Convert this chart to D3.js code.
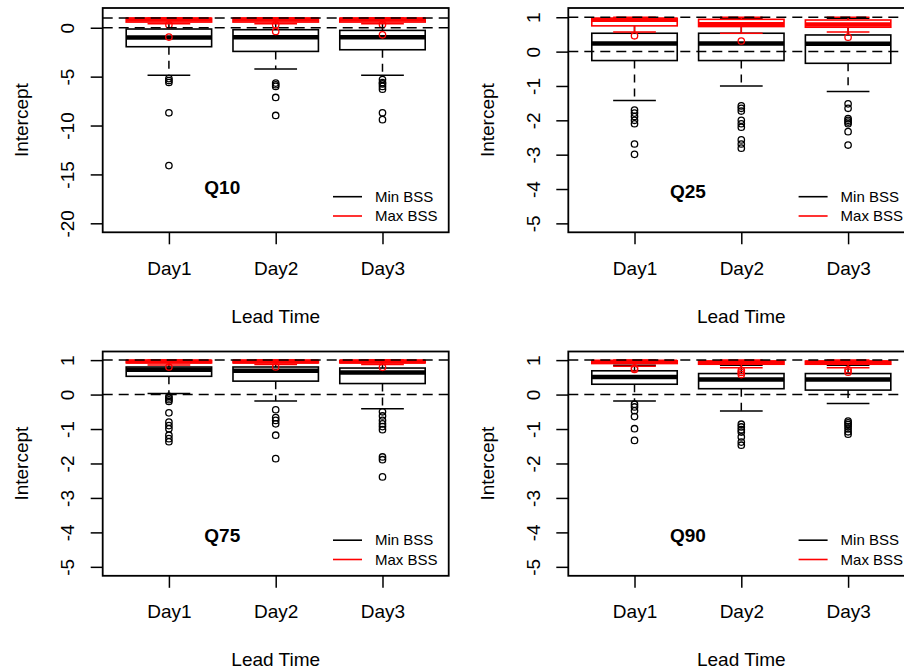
<!DOCTYPE html>
<html>
<head>
<meta charset="utf-8">
<script src="https://cdn.jsdelivr.net/npm/d3@7"></script>
<style>
    body { margin: 0; background: #fff; }
    text { font-family: "Liberation Sans", Arial, sans-serif; fill: #000; }
</style>
</head>
<body>
<svg class="visSVG"></svg>
<script>
const svgWidth = 904;
const svgHeight = 669;

// categories and labels
const days = ["Day1", "Day2", "Day3"];
const panelNames = ["Q10", "Q25", "Q75", "Q90"];
const legendNames = ["Min BSS", "Max BSS"];
const legendColours = ["#000000", "#ff0000"];
const q10Ticks = [0, -5, -10, -15, -20];
const qTicks = [1, 0, -1, -2, -3, -4, -5];
const refLines = [0, 1];
const panelLabelY = [-16.3, -4.07, -4.09, -4.09];

// box stats per day: [lower whisker, Q1, median, Q3, upper whisker]
const q10Min = [[-4.85, -1.94, -1.0, -0.13, 0.9], [-4.23, -2.42, -0.98, -0.2, 0.9], [-4.85, -2.25, -0.98, -0.27, 0.9]];
const q10MinOut = [[-5.2, -5.4, -5.6, -8.7, -14.1], [-5.66, -5.83, -6.0, -7.13, -8.97], [-5.3, -5.6, -5.75, -6.0, -6.28, -8.7, -9.4]];
const q10Max = [[0.4, 0.58, 0.85, 0.97, 1.0], [0.4, 0.58, 0.85, 0.97, 1.0], [0.4, 0.58, 0.85, 0.97, 1.0]];
const q10MaxOut = [[0.3, -0.95], [0.3, -0.38], [0.32, -0.72]];

const q25Min = [[-1.42, -0.26, 0.24, 0.535, 0.97], [-1.0, -0.26, 0.24, 0.535, 0.97], [-1.16, -0.34, 0.23, 0.485, 0.97]];
const q25MinOut = [[-1.7, -1.79, -1.89, -2.0, -2.1, -2.69, -2.99], [-1.58, -1.65, -1.73, -2.0, -2.1, -2.2, -2.57, -2.69, -2.81], [-1.52, -1.65, -1.95, -2.0, -2.05, -2.1, -2.33, -2.72]];
const q25Max = [[0.57, 0.75, 0.93, 0.97, 1.0], [0.535, 0.73, 0.8, 0.94, 1.0], [0.57, 0.71, 0.79, 0.92, 1.0]];
const q25MaxOut = [[0.46], [0.31], [0.42]];

const q75Min = [[0.03, 0.53, 0.72, 0.8, 0.99], [-0.19, 0.39, 0.69, 0.8, 0.99], [-0.41, 0.32, 0.64, 0.77, 0.99]];
const q75MinOut = [[-0.05, -0.1, -0.15, -0.2, -0.53, -0.8, -0.9, -0.99, -1.18, -1.28, -1.37], [-0.44, -0.67, -0.75, -0.85, -1.18, -1.86], [-0.5, -0.62, -0.75, -0.85, -0.93, -1.02, -1.81, -1.89, -2.39]];
const q75Max = [[0.86, 0.92, 0.96, 0.99, 1.0], [0.87, 0.92, 0.96, 0.99, 1.0], [0.87, 0.92, 0.96, 0.99, 1.0]];
const q75MaxOut = [[0.8], [0.8], [0.79]];

const q90Min = [[-0.19, 0.3, 0.51, 0.69, 0.85], [-0.48, 0.17, 0.44, 0.61, 0.85], [-0.26, 0.13, 0.44, 0.61, 0.85]];
const q90MinOut = [[-0.28, -0.36, -0.47, -0.64, -0.99, -1.33], [-0.86, -0.94, -1.02, -1.09, -1.23, -1.38, -1.47], [-0.77, -0.82, -0.87, -0.93, -1.0, -1.08, -1.15]];
const q90Max = [[0.82, 0.9, 0.95, 0.98, 1.0], [0.78, 0.88, 0.93, 0.97, 1.0], [0.78, 0.88, 0.93, 0.97, 1.0]];
const q90MaxOut = [[0.73, 0.77], [0.7, 0.64, 0.58], [0.72, 0.65]];

// layout
const plotW = 346;
const plotH = 224.3;
const lefts = [102.7, 568.3];
const tops = [8, 351.5];

const svg = d3.select('.visSVG')
    .attr("width", svgWidth)
    .attr("height", svgHeight);

svg.append("rect")
    .attr("width", svgWidth)
    .attr("height", svgHeight)
    .attr("fill", "#fff");

var panels = [
    { min: q10Min, minOut: q10MinOut, max: q10Max, maxOut: q10MaxOut, ticks: q10Ticks, domain: [-20.92, 2.02] },
    { min: q25Min, minOut: q25MinOut, max: q25Max, maxOut: q25MaxOut, ticks: qTicks, domain: [-5.26, 1.27] },
    { min: q75Min, minOut: q75MinOut, max: q75Max, maxOut: q75MaxOut, ticks: qTicks, domain: [-5.26, 1.25] },
    { min: q90Min, minOut: q90MinOut, max: q90Max, maxOut: q90MaxOut, ticks: qTicks, domain: [-5.26, 1.25] }
];

const xScale = d3.scaleLinear()
    .domain([0.38, 3.62])
    .range([0, plotW]);

// one boxplot series (R style: box, thick median, dashed whiskers, staples, open circles)
function drawBoxes(g, yScale, stats, outs, colour) {
    var half = 0.4, staple = 0.2;
    stats.forEach(function(s, i) {
        var cx = i + 1;
        var b = g.append("g");
        // whiskers
        [[s[3], s[4]], [s[1], s[0]]].forEach(function(w) {
            b.append("line")
                .attr("x1", xScale(cx)).attr("x2", xScale(cx))
                .attr("y1", yScale(w[0])).attr("y2", yScale(w[1]))
                .attr("stroke", colour)
                .attr("stroke-width", 1.5)
                .attr("stroke-dasharray", "8,6");
        });
        // staples
        [s[0], s[4]].forEach(function(v) {
            b.append("line")
                .attr("x1", xScale(cx - staple)).attr("x2", xScale(cx + staple))
                .attr("y1", yScale(v)).attr("y2", yScale(v))
                .attr("stroke", colour)
                .attr("stroke-width", 1.5);
        });
        // box
        b.append("rect")
            .attr("x", xScale(cx - half))
            .attr("y", yScale(s[3]))
            .attr("width", xScale(cx + half) - xScale(cx - half))
            .attr("height", yScale(s[1]) - yScale(s[3]))
            .attr("fill", "#fff")
            .attr("stroke", colour)
            .attr("stroke-width", 1.6);
        // median
        b.append("line")
            .attr("x1", xScale(cx - half)).attr("x2", xScale(cx + half))
            .attr("y1", yScale(s[2])).attr("y2", yScale(s[2]))
            .attr("stroke", colour)
            .attr("stroke-width", 4.5);
        // outliers
        b.selectAll("circle")
            .data(outs[i]).enter().append("circle")
                .attr("cx", xScale(cx))
                .attr("cy", function(d) { return yScale(d); })
                .attr("r", 3.2)
                .attr("fill", "none")
                .attr("stroke", colour)
                .attr("stroke-width", 1.3);
    });
}

panels.forEach(function(p, k) {
    var left = lefts[k % 2];
    var top = tops[Math.floor(k / 2)];
    var graph = svg.append("g")
        .attr("transform", "translate(" + left + "," + top + ")");

    var yScale = d3.scaleLinear()
        .domain(p.domain)
        .range([plotH, 0]);

    drawBoxes(graph, yScale, p.min, p.minOut, legendColours[0]);
    drawBoxes(graph, yScale, p.max, p.maxOut, legendColours[1]);

    // reference lines at 0 and 1
    graph.selectAll(".refLine")
        .data(refLines).enter().append("line")
            .attr("class", "refLine")
            .attr("x1", 0).attr("x2", plotW)
            .attr("y1", function(d) { return yScale(d); })
            .attr("y2", function(d) { return yScale(d); })
            .attr("stroke", "#000")
            .attr("stroke-width", 1.5)
            .attr("stroke-dasharray", "10,6");

    // frame
    graph.append("rect")
        .attr("width", plotW)
        .attr("height", plotH)
        .attr("fill", "none")
        .attr("stroke", "#000")
        .attr("stroke-width", 1.8);

    // Y AXIS
    var yAxis = graph.append("g")
        .call(d3.axisLeft(yScale).tickValues(p.ticks).tickSize(12).tickFormat(d3.format("d")));
    yAxis.select(".domain").remove();
    yAxis.attr("font-size", null).attr("font-family", null);
    yAxis.selectAll("line").attr("stroke-width", 1.5);
    yAxis.selectAll("text")
        .attr("x", null)
        .attr("dy", "0.35em")
        .attr("transform", "translate(-35,0) rotate(-90)")
        .attr("text-anchor", "middle")
        .style("font-size", "19px")
        .text(function(d) { return d < 0 ? "-" + Math.abs(d) : d; });

    graph.append("text")
        .text("Intercept")
        .attr("transform", "translate(-81," + (plotH / 2) + ") rotate(-90)")
        .attr("text-anchor", "middle")
        .attr("dy", "0.35em")
        .style("font-size", "19px");

    // X AXIS
    var xAxis = graph.append("g")
        .attr("transform", "translate(0," + plotH + ")")
        .call(d3.axisBottom(xScale).tickValues([1, 2, 3]).tickSize(12)
            .tickFormat(function(d) { return days[d - 1]; }));
    xAxis.select(".domain").remove();
    xAxis.attr("font-size", null).attr("font-family", null);
    xAxis.selectAll("line").attr("stroke-width", 1.5);
    xAxis.selectAll("text")
        .attr("y", 36)
        .attr("dy", "0.35em")
        .style("font-size", "19px");

    graph.append("text")
        .text("Lead Time")
        .attr("x", plotW / 2)
        .attr("y", plotH + 84)
        .attr("dy", "0.35em")
        .attr("text-anchor", "middle")
        .style("font-size", "19px");

    // panel label
    graph.append("text")
        .text(panelNames[k])
        .attr("x", xScale(1.5))
        .attr("y", yScale(panelLabelY[k]))
        .attr("dy", "0.35em")
        .attr("text-anchor", "middle")
        .style("font-size", "19px")
        .style("font-weight", "bold");

    // LEGEND
    var legend = graph.append("g")
        .attr("transform", "translate(230.3,188.7)");
    legendNames.forEach(function(name, j) {
        legend.append("line")
            .attr("x1", 0).attr("x2", 29)
            .attr("y1", j * 19.3).attr("y2", j * 19.3)
            .attr("stroke", legendColours[j])
            .attr("stroke-width", 1.6);
        legend.append("text")
            .text(name)
            .attr("x", 42)
            .attr("y", j * 19.3)
            .attr("dy", "0.35em")
            .style("font-size", "15px");
    });
});
</script>
</body>
</html>
